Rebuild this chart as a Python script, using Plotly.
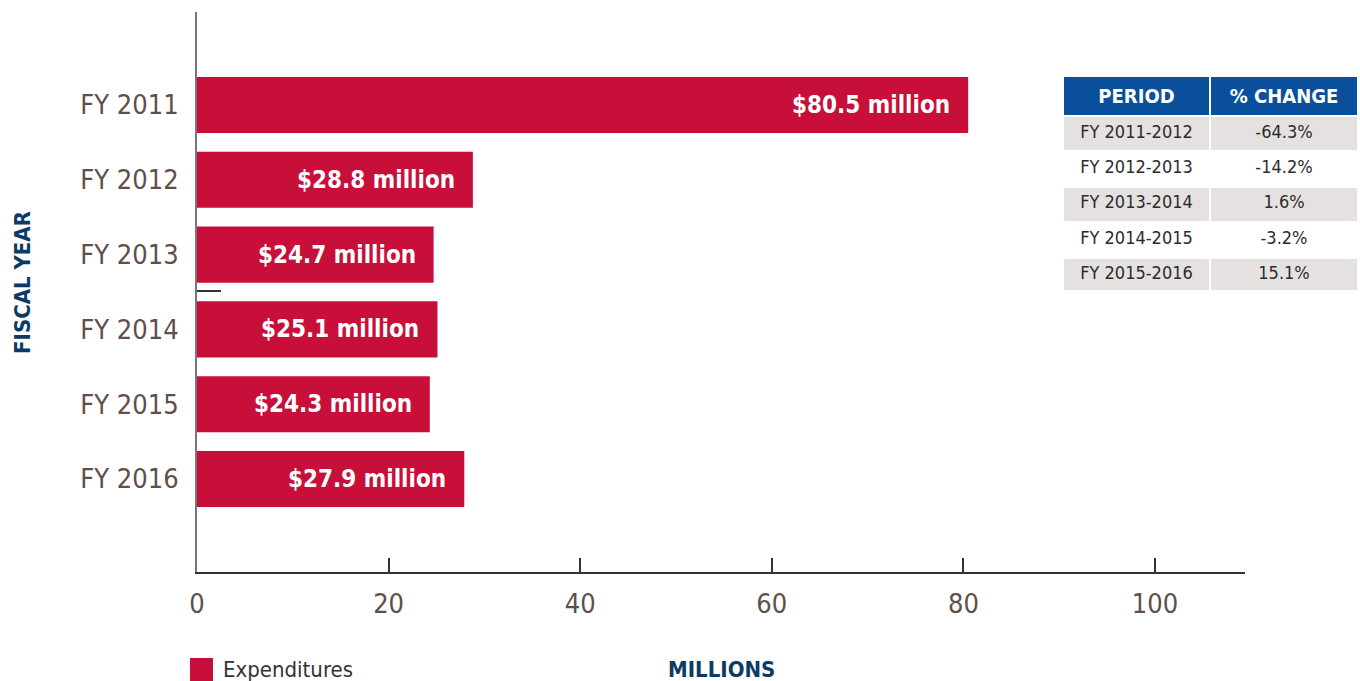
import plotly.graph_objects as go

# Annual expenditures (millions of dollars)
years = ["FY 2011", "FY 2012", "FY 2013", "FY 2014", "FY 2015", "FY 2016"]
expenditures = [80.5, 28.8, 24.7, 25.1, 24.3, 27.9]
bar_labels = ["$80.5 million", "$28.8 million", "$24.7 million",
              "$25.1 million", "$24.3 million", "$27.9 million"]

# Year-over-year change table
periods = ["FY 2011-2012", "FY 2012-2013", "FY 2013-2014", "FY 2014-2015", "FY 2015-2016"]
pct_change = ["-64.3%", "-14.2%", "1.6%", "-3.2%", "15.1%"]

x_ticks = [0, 20, 40, 60, 80, 100]

FONT = "Liberation Sans Narrow, DejaVu Sans Condensed, Roboto, sans-serif"
RED = "#c70f3a"
NAVY = "#0b3a66"
BLUE = "#0a4f9b"
GREY_TXT = "#5e4f4b"

W, H = 1360, 681
L, R, T, B = 197, 2, 12, 109
pw, ph = W - L - R, H - T - B
axis_right = 1245


def px_x(x):
    return (x - L) / pw


def px_y(y):
    return 1 - (y - T) / ph


fig = go.Figure()

fig.add_trace(go.Bar(
    x=expenditures, y=years, orientation="h",
    marker=dict(color=RED, line=dict(width=0)),
    width=0.75, name="Expenditures", showlegend=False,
    hoverinfo="x+y",
))

# value labels inside the bar ends
for yr, v, lab in zip(years, expenditures, bar_labels):
    fig.add_annotation(
        x=v, y=yr, xref="x", yref="y", text="<b>" + lab + "</b>",
        showarrow=False, xanchor="right", yanchor="middle", xshift=-16,
        font=dict(family=FONT, size=24, color="white"),
    )

row_fill = ["#e6e1e1" if i % 2 == 0 else "white" for i in range(len(periods))]
fig.add_trace(go.Table(
    domain=dict(x=[px_x(1063), 1.0], y=[px_y(291), px_y(76)]),
    columnwidth=[147, 148],
    header=dict(
        values=["<b>PERIOD</b>", "<b>% CHANGE</b>"],
        fill_color=BLUE, line=dict(color="white", width=2),
        font=dict(family=FONT, size=20, color="white"),
        align="center", height=36,
    ),
    cells=dict(
        values=[periods, pct_change],
        fill_color=[row_fill, row_fill], line=dict(color="white", width=2),
        font=dict(family=FONT, size=18, color="#2b2b2b"),
        align="center", height=35.4,
    ),
))

n = len(years)
pad = 1.243
fig.update_layout(
    width=W, height=H,
    margin=dict(l=L, r=R, t=T, b=B),
    paper_bgcolor="white", plot_bgcolor="white",
    font=dict(family=FONT, color=GREY_TXT),
    showlegend=False,
    bargap=0.25,
    xaxis=dict(
        domain=[0, px_x(axis_right)],
        range=[0, (axis_right - L) / 9.58],
        tickvals=x_ticks, ticks="inside", ticklen=14, tickwidth=2,
        tickcolor="#333333", showline=True, linecolor="#333333", linewidth=2,
        showgrid=False, zeroline=False,
        tickfont=dict(family=FONT, size=27, color=GREY_TXT),
        ticklabelstandoff=7,
    ),
    yaxis=dict(
        categoryorder="array", categoryarray=years,
        range=[n - 1 + pad, -pad],
        showline=True, linecolor="#777777", linewidth=2,
        showgrid=False, zeroline=False, ticks="",
        tickfont=dict(family=FONT, size=27, color=GREY_TXT),
        ticklabelstandoff=11,
    ),
)

# axis titles
fig.add_annotation(
    x=px_x(22), y=px_y(283), xref="paper", yref="paper",
    xanchor="center", yanchor="middle",
    text="<b>FISCAL YEAR</b>", textangle=-90, showarrow=False,
    font=dict(family=FONT, size=22, color=NAVY),
)
fig.add_annotation(
    x=px_x(721), y=px_y(669), xref="paper", yref="paper",
    xanchor="center", yanchor="middle",
    text="<b>MILLIONS</b>", showarrow=False,
    font=dict(family=FONT, size=22, color=NAVY),
)

# legend key
fig.add_shape(
    type="rect", xref="paper", yref="paper",
    x0=px_x(190), x1=px_x(213), y0=px_y(681), y1=px_y(658),
    fillcolor=RED, line=dict(width=0),
)
fig.add_annotation(
    x=px_x(221), y=px_y(669), xref="paper", yref="paper",
    text="Expenditures", showarrow=False, xanchor="left", yanchor="middle",
    font=dict(family=FONT, size=22, color="#333333"),
)

# short marker line on the category axis
fig.add_shape(
    type="line", xref="paper", yref="paper",
    x0=px_x(197), x1=px_x(221), y0=px_y(291), y1=px_y(291),
    line=dict(color="#333333", width=2),
)

fig.write_html("out.html")
